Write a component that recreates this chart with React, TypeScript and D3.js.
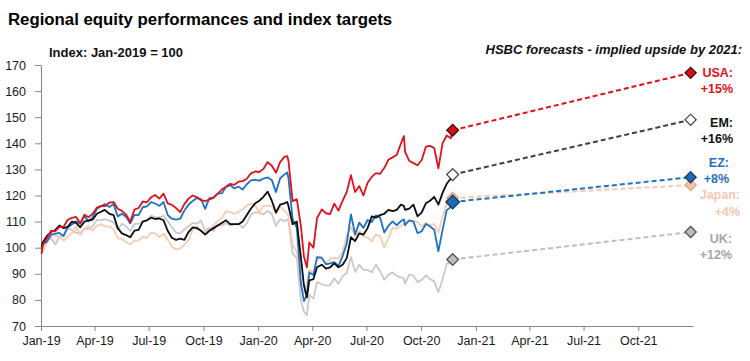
import React, { useEffect, useRef } from "react";
import * as d3 from "d3";

// weekly observations, index Jan-2019 = 100
const dates: string[] = [
  "2019-01-02", "2019-01-04", "2019-01-11", "2019-01-18", "2019-01-25",
  "2019-02-01", "2019-02-08", "2019-02-15", "2019-02-22",
  "2019-03-01", "2019-03-08", "2019-03-15", "2019-03-22", "2019-03-29",
  "2019-04-05", "2019-04-12", "2019-04-18", "2019-04-26",
  "2019-05-03", "2019-05-10", "2019-05-17", "2019-05-24", "2019-05-31",
  "2019-06-07", "2019-06-14", "2019-06-21", "2019-06-28",
  "2019-07-05", "2019-07-12", "2019-07-19", "2019-07-26",
  "2019-08-02", "2019-08-09", "2019-08-16", "2019-08-23", "2019-08-30",
  "2019-09-06", "2019-09-13", "2019-09-20", "2019-09-27",
  "2019-10-04", "2019-10-11", "2019-10-18", "2019-10-25",
  "2019-11-01", "2019-11-08", "2019-11-15", "2019-11-22", "2019-11-29",
  "2019-12-06", "2019-12-13", "2019-12-20", "2019-12-27",
  "2020-01-03", "2020-01-10", "2020-01-17", "2020-01-24", "2020-01-31",
  "2020-02-07", "2020-02-14", "2020-02-19", "2020-02-21", "2020-02-28",
  "2020-03-06", "2020-03-13", "2020-03-18", "2020-03-23", "2020-03-27",
  "2020-04-03", "2020-04-09", "2020-04-17", "2020-04-24",
  "2020-05-01", "2020-05-08", "2020-05-15", "2020-05-22", "2020-05-29",
  "2020-06-05", "2020-06-12", "2020-06-19", "2020-06-26",
  "2020-07-03", "2020-07-10", "2020-07-17", "2020-07-24", "2020-07-31",
  "2020-08-07", "2020-08-14", "2020-08-21", "2020-08-28",
  "2020-09-02", "2020-09-04", "2020-09-11", "2020-09-18", "2020-09-25",
  "2020-10-02", "2020-10-09", "2020-10-16", "2020-10-23", "2020-10-30",
  "2020-11-06", "2020-11-13", "2020-11-20", "2020-11-23",
];

const usa = [
  97.6, 101.0, 103.6, 106.5, 106.3,
  108.0, 108.0, 110.7, 111.4,
  111.8, 109.4, 112.6, 111.7, 113.0,
  115.4, 116.0, 115.9, 117.3,
  117.5, 114.9, 114.1, 112.7, 109.8,
  114.6, 115.2, 117.7, 117.4,
  119.3, 120.2, 118.8, 120.7,
  117.0, 116.4, 115.2, 113.6, 116.7,
  118.8, 120.0, 119.4, 118.2,
  117.8, 118.5, 119.1, 120.6,
  122.3, 123.4, 124.5, 124.1, 125.3,
  125.5, 126.4, 128.5, 129.2,
  129.0, 130.2, 132.8, 131.4, 128.7,
  132.8, 134.8, 135.1, 133.2, 117.8,
  118.6, 108.1, 96.5, 92.5, 102.0,
  100.0, 111.3, 114.7, 113.2,
  112.9, 116.9, 114.2, 117.9, 121.4,
  127.8, 121.3, 123.6, 120.0,
  124.9, 127.1, 128.6, 128.3, 130.5,
  133.7, 134.6, 135.5, 139.9,
  142.8, 136.7, 133.3, 132.4, 131.6,
  133.6, 138.7, 139.0, 138.2, 130.4,
  140.0, 143.0, 141.9, 145.0,
];

const em = [
  100.3, 102.0, 104.5, 106.0, 106.8,
  108.5, 107.5, 108.0, 110.0,
  109.5, 107.8, 110.0, 110.5, 110.8,
  113.0, 113.8, 114.5, 113.0,
  112.5, 107.5, 105.5, 104.8, 104.0,
  106.5, 106.8, 110.0, 110.5,
  111.5, 111.0, 111.2, 110.5,
  106.5, 103.8, 103.0, 103.5, 103.0,
  106.0, 107.8, 107.5, 106.5,
  105.0, 106.5, 107.5, 108.5,
  109.5, 110.5, 109.0, 109.0, 109.0,
  110.0, 112.5, 115.0, 117.0,
  118.0, 119.5, 121.5, 118.0, 113.5,
  116.5, 117.0, 117.5, 116.0, 109.0,
  110.0, 96.0, 85.5, 81.0, 87.5,
  88.0, 92.5, 93.5, 92.0,
  92.5, 94.0, 92.5, 93.5, 96.0,
  104.0, 102.5, 105.5, 105.0,
  107.5, 112.0, 111.5, 112.5, 113.0,
  114.5, 114.0, 114.5, 116.5,
  116.0, 114.5, 115.0, 116.5, 112.0,
  113.5, 117.0, 118.0, 119.5, 116.5,
  121.0, 124.5, 126.5, 128.0,
];

const ez = [
  99.5, 101.3, 102.3, 105.0, 105.4,
  105.7, 104.4, 107.9, 108.9,
  110.1, 109.2, 112.1, 110.1, 111.7,
  114.9, 115.9, 116.7, 115.6,
  116.7, 112.0, 113.0, 111.9, 109.3,
  112.6, 112.5, 115.5, 115.8,
  117.5, 116.9, 116.0, 117.5,
  112.5, 111.1, 110.8, 111.1, 114.2,
  116.5, 117.9, 119.0, 118.6,
  114.9, 119.0, 119.3, 120.8,
  120.8, 123.3, 124.0, 122.7, 123.4,
  122.3, 124.3, 125.8, 126.0,
  125.7, 126.5, 126.9, 125.9, 121.3,
  126.6, 128.0, 128.8, 126.6, 110.9,
  107.7, 86.2, 79.5, 82.0, 90.5,
  89.5, 96.4, 96.2, 93.6,
  94.0, 94.5, 93.0, 96.8, 101.6,
  112.8, 105.1, 109.6, 107.6,
  110.6, 109.8, 112.4, 111.6, 105.8,
  108.4, 110.1, 108.6, 110.2,
  110.8, 108.6, 110.5, 110.0, 105.6,
  106.3, 109.1, 108.1, 106.9, 98.6,
  106.8, 114.4, 115.6, 117.5,
];

const japan = [
  99.0, 98.5, 102.4, 104.2, 104.8,
  104.2, 102.7, 104.3, 105.4,
  108.1, 104.9, 107.2, 108.2, 106.5,
  108.4, 109.0, 108.2, 108.2,
  107.0, 103.7, 103.4, 102.2, 101.2,
  102.8, 102.7, 104.2, 103.8,
  105.7, 105.5, 104.1, 105.3,
  103.1, 100.4, 99.4, 99.7, 101.1,
  102.9, 106.8, 108.1, 106.3,
  105.5, 106.9, 108.4, 110.3,
  111.5, 114.0, 113.6, 113.0, 113.7,
  114.7, 116.1, 116.9, 116.2,
  113.6, 116.1, 116.1, 115.8, 112.9,
  115.9, 114.0, 113.1, 112.1, 101.1,
  98.5, 84.4, 82.7, 86.5, 91.5,
  90.5, 95.7, 95.7, 94.0,
  95.7, 96.1, 95.8, 98.6, 104.6,
  107.9, 104.4, 106.4, 104.4,
  103.9, 102.4, 105.1, 104.4, 100.1,
  103.7, 107.6, 107.3, 108.4,
  109.0, 109.8, 110.4, 110.4, 109.8,
  108.1, 109.6, 108.5, 109.1, 105.7,
  112.0, 116.6, 116.9, 119.0,
];

const uk = [
  100.2, 101.6, 102.8, 103.6, 101.2,
  104.3, 105.1, 107.6, 106.7,
  105.6, 105.6, 107.4, 107.1, 108.2,
  110.7, 110.5, 110.9, 110.4,
  109.7, 107.1, 109.2, 108.2, 106.4,
  109.0, 109.2, 110.1, 110.4,
  112.3, 111.6, 111.6, 112.2,
  110.1, 107.8, 105.8, 105.5, 107.1,
  108.2, 109.5, 109.2, 110.4,
  106.3, 107.7, 106.3, 108.9,
  108.5, 109.4, 108.5, 108.9, 109.2,
  107.6, 109.3, 112.7, 113.6,
  113.3, 112.8, 114.1, 112.8, 108.3,
  111.0, 110.1, 110.8, 110.0, 97.8,
  96.1, 79.8, 75.5, 74.2, 81.9,
  80.5, 86.8, 86.0, 85.5,
  85.7, 88.2, 86.2, 89.1, 90.3,
  96.4, 90.7, 93.5, 91.5,
  91.5, 90.6, 93.5, 91.0, 87.7,
  89.7, 90.5, 89.2, 88.6,
  88.3, 86.2, 89.7, 89.3, 86.8,
  87.7, 89.4, 88.0, 87.1, 82.9,
  87.8, 93.9, 94.4, 95.5,
];

// HSBC end-2021 targets
const forecastDates = ["2020-11-23", "2021-12-28"];
const regions = ["USA", "EM", "EZ", "Japan", "UK"];
const targets = [167, 149, 127, 124, 106];
const upside = ["+15%", "+16%", "+8%", "+4%", "+12%"];

const yTicks = [70, 80, 90, 100, 110, 120, 130, 140, 150, 160, 170];

const FONT = "'Liberation Sans', Arial, Helvetica, sans-serif";

const styles: Record<string, any> = {
  USA: { line: "#e3101c", dash: "#e3101c", fill: "#d5121c", stroke: "#3a0808", label: "#e3101c", lx: 733, dy: 3.7 },
  EM: { line: "#0d0d0d", dash: "#404040", fill: "#ffffff", stroke: "#404040", label: "#111111", lx: 733, dy: 6.7 },
  EZ: { line: "#1a73c6", dash: "#1a73c6", fill: "#1c6db8", stroke: "#1b3656", label: "#1f70bd", lx: 729, dy: -10.7 },
  Japan: { line: "#f9cbb0", dash: "#f9c9ad", fill: "#f6c3a6", stroke: "#d9a58a", label: "#f8c8ae", lx: 740, dy: 14 },
  UK: { line: "#c9c9c9", dash: "#bfbfbf", fill: "#bcbcbc", stroke: "#4a4a4a", label: "#a6a6a6", lx: 732, dy: 10.5 },
};

const history: Record<string, number[]> = { USA: usa, EM: em, EZ: ez, Japan: japan, UK: uk };

function drawChart(node: SVGSVGElement) {
  const svg = d3.select(node);
  svg.selectAll("*").remove();

  const parse = d3.timeParse("%Y-%m-%d");

  const x = d3.scaleTime()
    .domain([new Date(2019, 0, 1), new Date(2022, 0, 1)])
    .range([41, 693]);
  const y = d3.scaleLinear()
    .domain([70, 170])
    .range([326, 65]);

  svg.append("rect").attr("width", 750).attr("height", 361).attr("fill", "#ffffff");

  // titles
  svg.append("text")
    .attr("x", 8).attr("y", 25)
    .attr("font-family", FONT).attr("font-size", 16.8).attr("font-weight", "bold")
    .attr("fill", "#000")
    .text("Regional equity performances and index targets");

  svg.append("text")
    .attr("x", 49).attr("y", 57)
    .attr("font-family", FONT).attr("font-size", 13).attr("font-weight", "bold")
    .attr("fill", "#111")
    .text("Index: Jan-2019 = 100");

  svg.append("text")
    .attr("x", 742).attr("y", 54)
    .attr("text-anchor", "end")
    .attr("font-family", FONT).attr("font-size", 13).attr("font-weight", "bold")
    .attr("font-style", "italic")
    .attr("fill", "#111")
    .text("HSBC forecasts - implied upside by 2021:");

  // axes
  const yAxis = svg.append("g")
    .attr("transform", "translate(41,0)")
    .call(d3.axisLeft(y).tickValues(yTicks).tickSize(6).tickPadding(9).tickSizeOuter(0).tickFormat(d3.format("d")));
  const xTicks = d3.timeMonth.range(new Date(2019, 0, 1), new Date(2021, 11, 1), 3);
  const xAxis = svg.append("g")
    .attr("transform", "translate(0,326)")
    .call(d3.axisBottom(x).tickValues(xTicks).tickSize(5).tickPadding(5).tickSizeOuter(0)
      .tickFormat((d: any) => d3.timeFormat("%b-%y")(d)));

  [yAxis, xAxis].forEach((g) => {
    g.attr("font-family", FONT).attr("font-size", 12.5);
    g.selectAll("path, line").attr("stroke", "#868686");
    g.selectAll("text").attr("fill", "#1a1a1a");
  });

  // historical lines
  const line = d3.line<{ date: Date; value: number }>()
    .x((d) => x(d.date))
    .y((d) => y(d.value));

  ["UK", "Japan", "EZ", "EM", "USA"].forEach((name) => {
    const vals = history[name];
    const data = dates.map((d, i) => ({ date: parse(d) as Date, value: vals[i] }))
      .filter((d) => d.value !== undefined);
    svg.append("path")
      .datum(data)
      .attr("d", line)
      .attr("fill", "none")
      .attr("stroke", styles[name].line)
      .attr("stroke-width", 1.8)
      .attr("stroke-linejoin", "round");
  });

  // forecast dashed lines and diamonds
  const d0 = parse(forecastDates[0]) as Date;
  const d1 = parse(forecastDates[1]) as Date;
  const order = ["UK", "Japan", "EZ", "EM", "USA"];
  order.forEach((name) => {
    const i = regions.indexOf(name);
    const st = styles[name];
    const vals = history[name];
    const start = vals[vals.length - 1];
    const end = targets[i];

    svg.append("line")
      .attr("x1", x(d0)).attr("y1", y(start))
      .attr("x2", x(d1)).attr("y2", y(end))
      .attr("stroke", st.dash)
      .attr("stroke-width", 2)
      .attr("stroke-dasharray", "5,3");

    const diamond = (date: Date, v: number, size: number) => {
      svg.append("path")
        .attr("d", d3.symbol().type(d3.symbolSquare).size(size)() as string)
        .attr("transform", `translate(${x(date)},${y(v)}) rotate(45)`)
        .attr("fill", st.fill)
        .attr("stroke", st.stroke)
        .attr("stroke-width", 1.2);
    };
    diamond(d0, start, name === "EZ" ? 95 : 70);
    diamond(d1, end, 62);

    // labels
    const ly = y(end) + st.dy;
    const label = svg.append("text")
      .attr("text-anchor", "end")
      .attr("font-family", FONT).attr("font-size", 12.5).attr("font-weight", "bold")
      .attr("fill", st.label);
    label.append("tspan").attr("x", st.lx).attr("y", ly).text(name + ":");
    label.append("tspan").attr("x", st.lx).attr("y", ly + 16.5).text(upside[i]);
  });
}

export default function App() {
  const ref = useRef<SVGSVGElement>(null);

  useEffect(() => {
    if (ref.current) drawChart(ref.current);
  }, []);

  return (
    <svg
      ref={ref}
      width={750}
      height={361}
      style={{ position: "absolute", left: 0, top: 0, display: "block" }}
    />
  );
}
